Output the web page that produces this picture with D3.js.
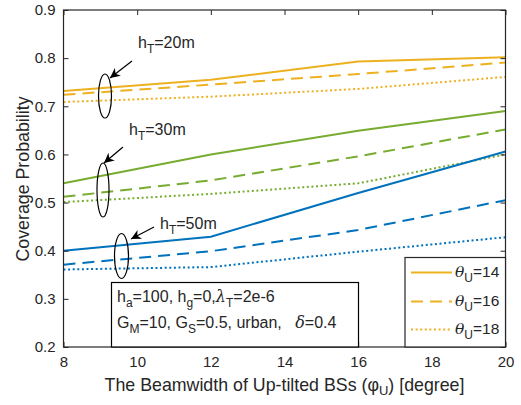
<!DOCTYPE html>
<html><head><meta charset="utf-8">
<script src="https://cdn.jsdelivr.net/npm/d3@7"></script>
<style>body{margin:0;background:#fff}svg{display:block}text{font-family:"Liberation Sans",Arial,sans-serif;fill:#262626}</style>
</head><body><svg id="c" width="521" height="405"></svg>
<script>
const xValues = [8, 12, 16, 20];
const xTicks = [8, 10, 12, 14, 16, 18, 20];
const yTicks = [0.2, 0.3, 0.4, 0.5, 0.6, 0.7, 0.8, 0.9];
const hT20 = {t14:[0.732,0.755,0.793,0.802], t16:[0.724,0.745,0.767,0.791], t18:[0.709,0.720,0.736,0.761]};
const hT30 = {t14:[0.540,0.600,0.649,0.690], t16:[0.512,0.546,0.596,0.652], t18:[0.501,0.518,0.540,0.600]};
const hT50 = {t14:[0.400,0.429,0.520,0.606], t16:[0.371,0.399,0.443,0.505], t18:[0.361,0.366,0.398,0.428]};
const groups = [{name:"20", d:hT20, color:"#EDB120"},{name:"30", d:hT30, color:"#77AC30"},{name:"50", d:hT50, color:"#0072BD"}];
const thetaLabels = ["14","16","18"];
const styles = {t14:null, t16:"12,7", t18:"2,2.6"};

const svg = d3.select("#c");
const L=63.5, R=505.5, T=10, B=347;
const x = d3.scaleLinear().domain([8,20]).range([L,R]);
const y = d3.scaleLinear().domain([0.2,0.9]).range([B,T]);

const line = d3.line().x((d,i)=>x(xValues[i])).y(d=>y(d));
groups.forEach(g=>{
  ["t18","t16","t14"].forEach(k=>{
    svg.append("path").attr("d",line(g.d[k])).attr("fill","none")
      .attr("stroke",g.color).attr("stroke-width",2)
      .attr("stroke-dasharray",styles[k]);
  });
});

const ax = svg.append("g");
ax.append("g").attr("transform",`translate(0,${B})`).call(d3.axisBottom(x).tickValues(xTicks).tickSizeInner(-5).tickSizeOuter(0).tickPadding(9));
ax.append("g").attr("transform",`translate(0,${T})`).call(d3.axisTop(x).tickValues(xTicks).tickSizeInner(-5).tickSizeOuter(0).tickFormat(""));
ax.append("g").attr("transform",`translate(${L},0)`).call(d3.axisLeft(y).tickValues(yTicks).tickSizeInner(-5).tickSizeOuter(0).tickPadding(8).tickFormat(d3.format(".1f")));
ax.append("g").attr("transform",`translate(${R},0)`).call(d3.axisRight(y).tickValues(yTicks).tickSizeInner(-5).tickSizeOuter(0).tickFormat(""));
ax.selectAll(".domain").remove();
ax.selectAll("line").attr("stroke","#262626").attr("stroke-width",1);
ax.selectAll("text").attr("fill","#262626").attr("font-size",15).style("font-family",'"Liberation Sans",Arial,sans-serif');
svg.append("rect").attr("x",L).attr("y",T).attr("width",R-L).attr("height",B-T).attr("fill","none").attr("stroke","#262626").attr("stroke-width",1.2);

const xlab = svg.append("text").attr("x",(L+R)/2).attr("y",391).attr("text-anchor","middle").attr("font-size",17.8);
xlab.append("tspan").text("The Beamwidth of Up-tilted BSs (φ");
xlab.append("tspan").attr("font-size",13).attr("dy",4).text("U");
xlab.append("tspan").attr("dy",-4).text(") [degree]");
svg.append("text").attr("transform","translate(29,179) rotate(-90)").attr("text-anchor","middle").attr("font-size",17.8).text("Coverage Probability");

const ann = [
  {tx:138, ty:48, lab:"20m", ax1:132, ay1:61, ax2:110, ay2:78, cx:105, cy:96, rx:6.5, ry:22},
  {tx:129, ty:135, lab:"30m", ax1:123, ay1:147, ax2:104, ay2:163, cx:103, cy:190, rx:6, ry:27},
  {tx:160, ty:229, lab:"50m", ax1:154, ay1:227, ax2:131, ay2:239, cx:121.5, cy:256, rx:7, ry:22.5}
];
const defs = svg.append("defs");
defs.append("marker").attr("id","ah").attr("viewBox","0 0 10 10").attr("refX",10).attr("refY",5)
  .attr("markerWidth",10).attr("markerHeight",10).attr("markerUnits","userSpaceOnUse").attr("orient","auto")
  .append("path").attr("d","M0,0 L10,5 L0,10 L3,5 Z").attr("fill","#000");
ann.forEach(a=>{
  svg.append("ellipse").attr("cx",a.cx).attr("cy",a.cy).attr("rx",a.rx).attr("ry",a.ry).attr("fill","none").attr("stroke","#000").attr("stroke-width",1.2);
  svg.append("line").attr("x1",a.ax1).attr("y1",a.ay1).attr("x2",a.ax2).attr("y2",a.ay2).attr("stroke","#000").attr("stroke-width",1.2).attr("marker-end","url(#ah)");
  const t = svg.append("text").attr("x",a.tx).attr("y",a.ty).attr("font-size",16).attr("fill","#000");
  t.append("tspan").text("h");
  t.append("tspan").attr("font-size",12).attr("dy",5).text("T");
  t.append("tspan").attr("dy",-5).text("="+a.lab);
});

svg.append("rect").attr("x",111.5).attr("y",282.5).attr("width",247).attr("height",B-282.5).attr("fill","#fff").attr("stroke","#000").attr("stroke-width",1.2);
const p1 = svg.append("text").attr("x",117).attr("y",302).attr("font-size",16).attr("fill","#000");
p1.append("tspan").text("h"); p1.append("tspan").attr("font-size",12).attr("dy",5).text("a");
p1.append("tspan").attr("dy",-5).text("=100, h"); p1.append("tspan").attr("font-size",12).attr("dy",5).text("g");
p1.append("tspan").attr("dy",-5).text("=0,");
p1.append("tspan").attr("font-family","'DejaVu Serif',serif").attr("font-style","italic").text("λ");
p1.append("tspan").attr("font-size",12).attr("dy",5).text("T");
p1.append("tspan").attr("dy",-5).text("=2e-6");
const p2 = svg.append("text").attr("x",117).attr("y",328).attr("font-size",16).attr("fill","#000");
p2.append("tspan").text("G"); p2.append("tspan").attr("font-size",12).attr("dy",5).text("M");
p2.append("tspan").attr("dy",-5).text("=10, G"); p2.append("tspan").attr("font-size",12).attr("dy",5).text("S");
p2.append("tspan").attr("dy",-5).text("=0.5, urban,\u00a0\u00a0\u00a0");
p2.append("tspan").attr("font-family","'DejaVu Serif',serif").attr("font-style","italic").text("δ");
p2.append("tspan").text("=0.4");

const lg = svg.append("g");
lg.append("rect").attr("x",405).attr("y",257.5).attr("width",R-405).attr("height",B-257.5).attr("fill","#fff").attr("stroke","#262626").attr("stroke-width",1.2);
["t14","t16","t18"].forEach((k,i)=>{
  const yy = [272.5,301.5,329.5][i];
  lg.append("line").attr("x1",411).attr("x2",452).attr("y1",yy).attr("y2",yy).attr("stroke","#EDB120").attr("stroke-width",2).attr("stroke-dasharray",styles[k]);
  const t = lg.append("text").attr("x",455).attr("y",yy+4).attr("font-size",15.5).attr("fill","#000");
  t.append("tspan").attr("font-family","'DejaVu Serif',serif").attr("font-style","italic").text("θ");
  t.append("tspan").attr("font-size",12).attr("dy",5).text("U");
  t.append("tspan").attr("dy",-5).text("="+thetaLabels[i]);
});
</script></body></html>
